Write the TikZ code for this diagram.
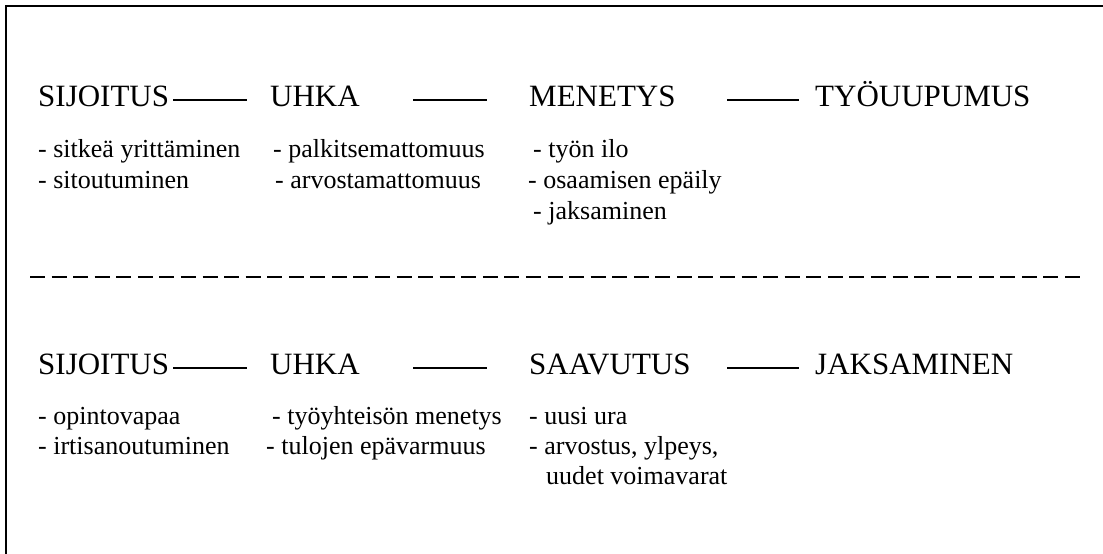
\documentclass[tikz,border=0pt]{standalone}
\usepackage{fontspec}
\setmainfont{Liberation Serif}
\tikzset{
  head/.style={anchor=base west,inner sep=0pt,font=\fontsize{31}{35}\selectfont},
  item/.style={anchor=base west,inner sep=0pt,font=\fontsize{26}{30}\selectfont},
  link/.style={line width=2pt},
  frame/.style={line width=2pt},
  sep/.style={line width=2pt,dash pattern=on 15pt off 6.5625pt}
}
\begin{document}
\begin{tikzpicture}[x=1pt,y=-1pt]
\useasboundingbox (0,0) rectangle (1103,554);
% frame (top and left only)
\coordinate (fa) at (6,554);
\coordinate (fb) at (6,6);
\coordinate (fc) at (1103,6);
\draw[frame] (fa) -- (fb) -- (fc);
% top row
\node[head] (h1) at (38,106) {SIJOITUS};
\node[head] (h2) at (270,106) {UHKA};
\node[head] (h3) at (529,106) {MENETYS};
\node[head] (h4) at (815,106) {TYÖUUPUMUS};
\coordinate (a1) at (173,100); \coordinate (b1) at (247,100);
\coordinate (a2) at (413,100); \coordinate (b2) at (487,100);
\coordinate (a3) at (727,100); \coordinate (b3) at (799,100);
\draw[link] (a1) -- (b1);
\draw[link] (a2) -- (b2);
\draw[link] (a3) -- (b3);
\node[item] (t11) at (38,157) {- sitkeä yrittäminen};
\node[item] (t12) at (38,188) {- sitoutuminen};
\node[item] (t21) at (273,157) {- palkitsemattomuus};
\node[item] (t22) at (275,188) {- arvostamattomuus};
\node[item] (t31) at (533,157) {- työn ilo};
\node[item] (t32) at (528,188) {- osaamisen epäily};
\node[item] (t33) at (533,219) {- jaksaminen};
% separator
\coordinate (s1) at (30,277); \coordinate (s2) at (1080,277);
\draw[sep] (s1) -- (s2);
% bottom row
\node[head] (g1) at (38,374) {SIJOITUS};
\node[head] (g2) at (270,374) {UHKA};
\node[head] (g3) at (529,374) {SAAVUTUS};
\node[head] (g4) at (815,374) {JAKSAMINEN};
\coordinate (c1) at (173,368); \coordinate (d1) at (247,368);
\coordinate (c2) at (413,368); \coordinate (d2) at (487,368);
\coordinate (c3) at (727,368); \coordinate (d3) at (799,368);
\draw[link] (c1) -- (d1);
\draw[link] (c2) -- (d2);
\draw[link] (c3) -- (d3);
\node[item] (u11) at (38,424) {- opintovapaa};
\node[item] (u12) at (38,454) {- irtisanoutuminen};
\node[item] (u21) at (272,424) {- työyhteisön menetys};
\node[item] (u22) at (266,454) {- tulojen epävarmuus};
\node[item] (u31) at (529,424) {- uusi ura};
\node[item] (u32) at (529,454) {- arvostus, ylpeys,};
\node[item] (u33) at (546,484) {uudet voimavarat};
\end{tikzpicture}
\end{document}
